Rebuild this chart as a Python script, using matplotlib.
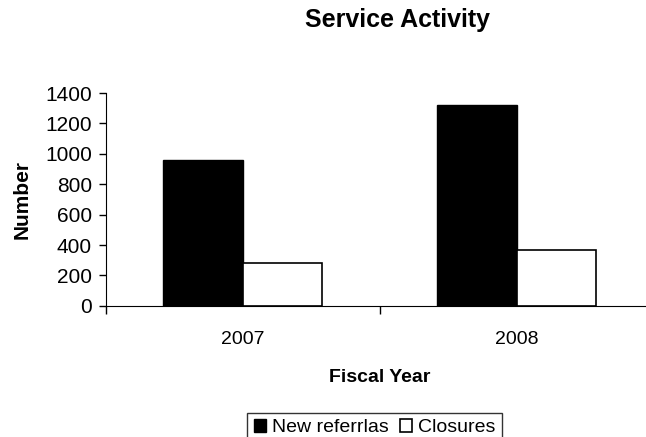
import matplotlib.pyplot as plt
import numpy as np

plt.rcParams['font.family'] = ['Liberation Sans', 'DejaVu Sans']

# data
years = ['2007', '2008']
new_referrals = [960, 1320]
closures = [283, 368]

fig = plt.figure(figsize=(6.46, 4.37), dpi=100)
ax = fig.add_axes([0.164, 0.30, 0.848, 0.487])

x = np.arange(len(years))
w = 0.29
ax.bar(x - w / 2, new_referrals, w, color='black', edgecolor='black', linewidth=1, label='New referrlas')
ax.bar(x + w / 2, closures, w, color='white', edgecolor='black', linewidth=1.2, label='Closures')

ax.set_xlim(-0.5, len(years) - 0.5)
ax.set_ylim(0, 1400)
ax.set_yticks(range(0, 1401, 200))
ax.set_xticks(x)
ax.set_xticklabels(years, fontsize=14)
ax.tick_params(axis='x', length=0, pad=18)
ax.set_xticks(np.arange(-0.5, len(years), 1), minor=True)
ax.tick_params(axis='x', which='minor', length=6, direction='out', width=1)
ax.tick_params(axis='y', labelsize=15, length=5, direction='out', width=1, pad=5)
ax.spines['top'].set_visible(False)
ax.spines['right'].set_visible(False)

ax.set_ylabel('Number', fontsize=15, fontweight='bold', labelpad=10)
ax.set_xlabel('Fiscal Year', fontsize=14, fontweight='bold', labelpad=15)
fig.text(0.615, 0.955, 'Service Activity', fontsize=18, fontweight='bold', ha='center', va='center')

leg = fig.legend(loc='upper center', bbox_to_anchor=(0.58, 0.078), ncol=2, fontsize=14,
                 frameon=True, fancybox=False, edgecolor='black', handlelength=0.6,
                 handleheight=0.6, handletextpad=0.3, columnspacing=0.6, borderpad=0.35,
                 borderaxespad=0.5)
leg.get_frame().set_linewidth(1)

fig.savefig('out.png', dpi=100)
